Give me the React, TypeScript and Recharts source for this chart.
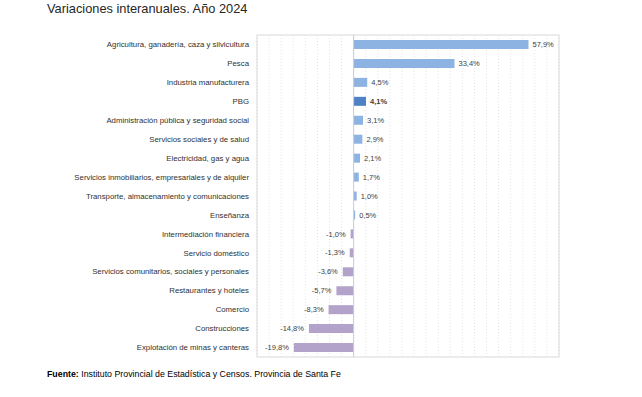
import React from "react";
import {
  BarChart,
  Bar,
  XAxis,
  YAxis,
  CartesianGrid,
  ReferenceLine,
  ReferenceArea,
  Cell,
  LabelList,
} from "recharts";

const categories = [
  "Agricultura, ganadería, caza y silvicultura",
  "Pesca",
  "Industria manufacturera",
  "PBG",
  "Administración pública y seguridad social",
  "Servicios sociales y de salud",
  "Electricidad, gas y agua",
  "Servicios inmobiliarios, empresariales y de alquiler",
  "Transporte, almacenamiento y comunicaciones",
  "Enseñanza",
  "Intermediación financiera",
  "Servicio doméstico",
  "Servicios comunitarios, sociales y personales",
  "Restaurantes y hoteles",
  "Comercio",
  "Construcciones",
  "Explotación de minas y canteras",
];

const values = [57.9, 33.4, 4.5, 4.1, 3.1, 2.9, 2.1, 1.7, 1.0, 0.5, -1.0, -1.3, -3.6, -5.7, -8.3, -14.8, -19.8];

const xTicks = [-32, -28, -24, -20, -16, -12, -8, -4, 0, 4, 8, 12, 16, 20, 24, 28, 32, 36, 40, 44, 48, 52, 56, 60, 64, 68];

const title = "Variaciones interanuales. Año 2024";
const sourceLabel = "Fuente:";
const sourceText = " Instituto Provincial de Estadística y Censos. Provincia de Santa Fe";

const data = categories.map((name, i) => ({ name, value: values[i] }));

const fmt = (v: number) => v.toFixed(1).replace(".", ",") + "%";

const FONT = "'Liberation Sans', Arial, sans-serif";

const ValueLabel = (props: any) => {
  const { x, y, width, height, value, index } = props;
  const xx = Number(x), ww = Number(width), yy = Number(y), hh = Number(height);
  const left = Math.min(xx, xx + ww);
  const right = Math.max(xx, xx + ww);
  const pos = Number(value) >= 0;
  const bold = categories[index] === "PBG";
  return (
    <text
      x={pos ? right + 4 : left - 5}
      y={yy + hh / 2}
      dy="0.35em"
      textAnchor={pos ? "start" : "end"}
      fontSize={7.5}
      fontFamily={FONT}
      fontWeight={bold ? 700 : 400}
      fill="#404040"
    >
      {fmt(Number(value))}
    </text>
  );
};

const CatTick = (props: any) => {
  const { x, y, payload } = props;
  return (
    <text x={x} y={y} dy="0.35em" textAnchor="end" fontSize={7.8} fontFamily={FONT} fill="#303030">
      {payload.value}
    </text>
  );
};

const EmptyTick = () => <g />;

export default function App() {
  return (
    <div
      style={{
        position: "absolute",
        left: 0,
        top: 0,
        width: 642,
        height: 397,
        background: "#fff",
        overflow: "hidden",
      }}
    >
      <div
        style={{
          position: "absolute",
          left: 47,
          top: 1,
          fontFamily: FONT,
          fontSize: 12.8,
          color: "#262626",
          whiteSpace: "nowrap",
        }}
      >
        {title}
      </div>
      <BarChart
        width={642}
        height={397}
        data={data}
        layout="vertical"
        margin={{ top: 35, right: 83, bottom: 40, left: 0 }}
      >
        <CartesianGrid
          horizontal={false}
          vertical={true}
          stroke="#e4e4e4"
          strokeDasharray="1 2"
        />
        <XAxis
          type="number"
          domain={[-32, 68]}
          ticks={xTicks}
          interval={0}
          height={0}
          tick={<EmptyTick />}
          tickLine={false}
          axisLine={false}
        />
        <YAxis
          type="category"
          dataKey="name"
          width={257}
          axisLine={false}
          tickLine={false}
          interval={0}
          tick={<CatTick />}
        />
        <ReferenceArea x1={-32} x2={68} fill="none" stroke="#d9d9d9" strokeWidth={1} />
        <Bar dataKey="value" barSize={9} fill="#8db3e2" isAnimationActive={false}>
          {data.map((d, i) => (
            <Cell
              key={i}
              fill={d.name === "PBG" ? "#4f81c7" : d.value < 0 ? "#b3a2c9" : "#8db3e2"}
            />
          ))}
          <LabelList dataKey="value" content={ValueLabel} />
        </Bar>
        <ReferenceLine x={0} stroke="#c6ccd6" strokeWidth={1} />
      </BarChart>
      <div
        style={{
          position: "absolute",
          left: 47,
          top: 369,
          fontFamily: FONT,
          fontSize: 8.8,
          color: "#000",
          whiteSpace: "nowrap",
        }}
      >
        <b>{sourceLabel}</b>
        {sourceText}
      </div>
    </div>
  );
}
